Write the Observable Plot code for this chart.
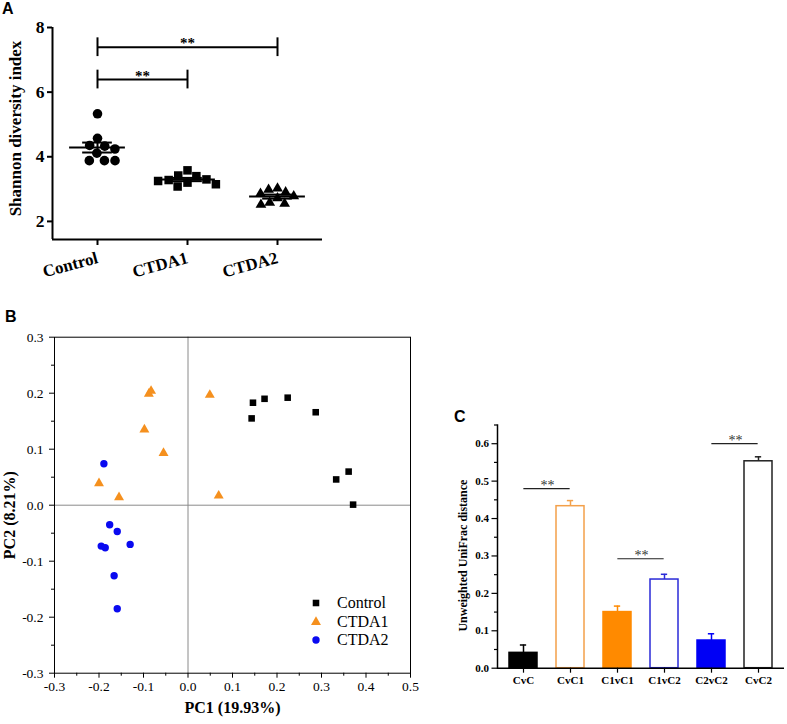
<!DOCTYPE html>
<html><head><meta charset="utf-8">
<script src="https://cdn.jsdelivr.net/npm/d3@7"></script>
<script src="https://cdn.jsdelivr.net/npm/@observablehq/plot@0.6"></script>
<style>
body{margin:0;background:#fff;}
#fig{position:relative;width:787px;height:724px;background:#fff;overflow:hidden;}
.panel{position:absolute;}
.tag{position:absolute;font-family:"Liberation Sans",Arial,sans-serif;font-weight:bold;font-size:16px;line-height:1;}
#legend{position:absolute;left:310px;top:594px;font-family:"Liberation Serif",serif;font-size:16px;}
#legend .row{display:flex;align-items:center;height:18.5px;}
#legend span{font-family:"Liberation Serif",serif;}
#legend svg{margin-right:15px;display:block;}
</style></head><body>
<div id="fig">
 <div id="pa" class="panel" style="left:0;top:0"></div>
 <div id="pb" class="panel" style="left:0;top:300px"></div>
 <div id="pc" class="panel" style="left:440px;top:400px"></div>
 <div class="tag" style="left:2px;top:0.5px">A</div>
 <div class="tag" style="left:5px;top:309px">B</div>
 <div class="tag" style="left:454px;top:409px">C</div>
 <div id="legend"></div>
</div>
<script>
// ---------- data ----------
const groups = ["Control", "CTDA1", "CTDA2"];
// Panel A: Shannon diversity index per sample
const shannonControl = [5.33, 4.57, 4.35, 4.33, 4.24, 4.11, 3.88, 3.88, 3.88];
const shannonCTDA1 = [3.58, 3.42, 3.40, 3.30, 3.28, 3.25, 3.20, 3.15, 3.08];
const shannonCTDA2 = [3.02, 2.98, 2.90, 2.86, 2.78, 2.72, 2.58, 2.55, 2.52];
const shannonTicks = [2, 4, 6, 8];
const bracketFrom = ["Control", "Control"];
const bracketTo = ["CTDA1", "CTDA2"];
const bracketLevel = [6.39, 7.39];
const bracketLabel = ["**", "**"];

// Panel B: PCoA coordinates [PC1, PC2]
const pcoaControl = [[0.146, 0.183], [0.172, 0.190], [0.224, 0.192], [0.143, 0.155], [0.287, 0.166], [0.361, 0.060], [0.333, 0.046], [0.371, 0.001]];
const pcoaCTDA1 = [[-0.083, 0.204], [-0.088, 0.199], [0.049, 0.197], [-0.098, 0.135], [-0.055, 0.093], [-0.200, 0.039], [-0.155, 0.014], [0.069, 0.017]];
const pcoaCTDA2 = [[-0.189, 0.074], [-0.176, -0.035], [-0.159, -0.047], [-0.195, -0.073], [-0.186, -0.076], [-0.130, -0.070], [-0.166, -0.126], [-0.159, -0.185]];
const pc1Ticks = [-0.3, -0.2, -0.1, 0.0, 0.1, 0.2, 0.3, 0.4, 0.5];
const pc1Minor = [-0.25, -0.15, -0.05, 0.05, 0.15, 0.25, 0.35, 0.45];
const pc2Ticks = [-0.3, -0.2, -0.1, 0.0, 0.1, 0.2, 0.3];
const pc2Minor = [-0.25, -0.15, -0.05, 0.05, 0.15, 0.25];

// Panel C: unweighted UniFrac distance
const distNames = ["CvC", "CvC1", "C1vC1", "C1vC2", "C2vC2", "CvC2"];
const distMean = [0.041, 0.433, 0.150, 0.237, 0.074, 0.553];
const distErr = [0.021, 0.015, 0.016, 0.014, 0.018, 0.012];
const distTicks = [0.0, 0.1, 0.2, 0.3, 0.4, 0.5, 0.6];
const distMinor = [0.05, 0.15, 0.25, 0.35, 0.45, 0.55, 0.65];
const sigLeft = ["CvC", "C1vC1", "C2vC2"];
const sigRight = ["CvC1", "C1vC2", "CvC2"];
const sigLevel = [0.48, 0.2925, 0.60];

// ---------- styles ----------
const serif = "'Liberation Serif','Times New Roman',serif";
const groupColor = ["#000000", "#f5901e", "#0a0af0"];
const barFill = {CvC: "#000000", CvC1: "#ffffff", C1vC1: "#ff8a00", C1vC2: "#ffffff", C2vC2: "#0000f5", CvC2: "#ffffff"};
const barStroke = {CvC: "#000000", CvC1: "#f3a04a", C1vC1: "#ff8a00", C1vC2: "#2a2ad8", C2vC2: "#0000f5", CvC2: "#222222"};
const fmt1 = d => d.toFixed(1);

// ---------- Panel A ----------
const shannon = [shannonControl, shannonCTDA1, shannonCTDA2];
const dataA = groups.flatMap((g, i) => shannon[i].map(v => ({group: g, value: v})));
const statsA = groups.map((g, i) => {
  const v = shannon[i], m = d3.mean(v), se = d3.deviation(v) / Math.sqrt(v.length);
  return {group: g, mean: m, lo: m - se, hi: m + se};
});
const bracketsA = bracketFrom.map((f, i) => ({
  group: f, x1: 0, x2: 2 * (groups.indexOf(bracketTo[i]) - groups.indexOf(f)),
  y: bracketLevel[i], label: bracketLabel[i]
}));
const yMinA = 1.44;
const radiusA = {Control: 4.8, CTDA1: 4.8, CTDA2: 4.0};

const plotA = Plot.plot({
  width: 330, height: 300,
  marginTop: 27, marginBottom: 61, marginLeft: 52, marginRight: 8,
  style: {fontFamily: serif, fontWeight: "bold", fontSize: "16px", background: "transparent", overflow: "visible"},
  fx: {domain: groups, padding: 0},
  x: {domain: [-1, 1], axis: null},
  y: {domain: [yMinA, 8]},
  r: {type: "identity"},
  symbol: {domain: groups, range: ["circle", "square", "triangle"]},
  marks: [
    Plot.ruleY([yMinA], {strokeWidth: 2}),
    Plot.ruleX([{group: "Control"}], {fx: "group", x: () => -1, y1: yMinA, y2: 8, strokeWidth: 2}),
    Plot.dot(dataA, Plot.dodgeX("middle", {fx: "group", y: "value", symbol: "group", r: d => radiusA[d.group], fill: "black", stroke: "none"})),
    Plot.ruleY(statsA, {fx: "group", y: "mean", x1: -0.62, x2: 0.62, strokeWidth: 2}),
    Plot.ruleY(statsA, {fx: "group", y: "lo", x1: -0.33, x2: 0.33, strokeWidth: 2}),
    Plot.ruleY(statsA, {fx: "group", y: "hi", x1: -0.33, x2: 0.33, strokeWidth: 2}),
    Plot.ruleX(statsA, {fx: "group", x: () => 0, y1: "lo", y2: "hi", strokeWidth: 2}),
    Plot.ruleY(bracketsA, {fx: "group", y: "y", x1: "x1", x2: "x2", strokeWidth: 2}),
    Plot.ruleX(bracketsA, {fx: "group", x: "x1", y1: d => d.y - 0.29, y2: d => d.y + 0.29, strokeWidth: 2}),
    Plot.ruleX(bracketsA, {fx: "group", x: "x2", y1: d => d.y - 0.29, y2: d => d.y + 0.29, strokeWidth: 2}),
    Plot.text(bracketsA, {fx: "group", x: d => (d.x1 + d.x2) / 2, y: "y", text: "label", lineAnchor: "bottom", dy: 1, fontSize: 15, fontWeight: "bold"}),
    Plot.axisY({ticks: shannonTicks, tickSize: 5, tickPadding: 3, tickFormat: d => String(d), fontSize: 17.5, fontWeight: "bold", strokeWidth: 2, label: null}),
    Plot.axisFx({anchor: "bottom", tickSize: 6, tickPadding: 12, tickRotate: -15, fontSize: 17, fontWeight: "bold", strokeWidth: 2, label: null}),
    Plot.text([{group: "Control", t: "Shannon diversity index"}], {fx: "group", text: "t", frameAnchor: "left", textAnchor: "middle", rotate: -90, dx: -37, dy: -5, fontSize: 17, fontWeight: "bold"})
  ]
});
document.getElementById("pa").append(plotA);

// ---------- Panel B ----------
const pcoaSets = [pcoaControl, pcoaCTDA1, pcoaCTDA2];
const pcoa = groups.flatMap((g, i) => pcoaSets[i].map(([a, b]) => ({group: g, pc1: a, pc2: b})));
const plotB = Plot.plot({
  width: 420, height: 424,
  marginTop: 36.7, marginBottom: 51.3, marginLeft: 54, marginRight: 10,
  style: {fontFamily: serif, fontSize: "13px", background: "transparent", overflow: "visible"},
  x: {domain: [-0.3, 0.5]},
  y: {domain: [-0.3, 0.3]},
  color: {domain: groups, range: groupColor},
  symbol: {domain: groups, range: ["square", "triangle", "circle"]},
  marks: [
    Plot.ruleX([0], {stroke: "#8a8a8a", strokeWidth: 1}),
    Plot.ruleY([0], {stroke: "#8a8a8a", strokeWidth: 1}),
    Plot.frame({stroke: "#000"}),
    Plot.axisX({ticks: pc1Ticks, tickSize: 5, tickPadding: 3, tickFormat: fmt1, fontSize: 13.5, fontFamily: serif, label: null}),
    Plot.axisX({ticks: pc1Minor, tickSize: 3, tickFormat: () => "", label: null}),
    Plot.axisY({ticks: pc2Ticks, tickSize: 5, tickPadding: 6, tickFormat: fmt1, fontSize: 13.5, fontFamily: serif, label: null}),
    Plot.axisY({ticks: pc2Minor, tickSize: 3, tickFormat: () => "", label: null}),
    Plot.dot(pcoa, {x: "pc1", y: "pc2", symbol: "group", fill: "group", r: 3.7}),
    Plot.text(["PC1 (19.93%)"], {frameAnchor: "bottom", dy: 40, fontSize: 16, fontWeight: "bold"}),
    Plot.text(["PC2 (8.21%)"], {frameAnchor: "left", textAnchor: "middle", rotate: -90, dx: -45, dy: 10, fontSize: 16, fontWeight: "bold"})
  ]
});
document.getElementById("pb").append(plotB);

// legend for B
const legendSymbols = [d3.symbolSquare, d3.symbolTriangle, d3.symbolCircle];
const legend = d3.select("#legend");
groups.forEach((g, i) => {
  const row = legend.append("div").attr("class", "row");
  const svg = row.append("svg").attr("width", 12).attr("height", 12);
  svg.append("path").attr("transform", "translate(6,6)")
    .attr("d", d3.symbol(legendSymbols[i], Math.PI * 3.7 * 3.7)())
    .attr("fill", groupColor[i]);
  row.append("span").text(g);
});

// ---------- Panel C ----------
const distData = distNames.map((n, i) => ({name: n, value: distMean[i], top: distMean[i] + distErr[i]}));
const sigC = sigLeft.map((a, i) => ({a, b: sigRight[i], y: sigLevel[i]}));
const wC = 347, mlC = 57, mrC = 3;
const stepC = (wC - mlC - mrC) / distNames.length;
const bwC = 0.6 * stepC;
const plotC = Plot.plot({
  width: wC, height: 324,
  marginTop: 24.5, marginBottom: 56.3, marginLeft: mlC, marginRight: mrC,
  style: {fontFamily: serif, fontSize: "11px", fontWeight: "bold", background: "transparent", overflow: "visible"},
  x: {domain: distNames, paddingInner: 0.4, paddingOuter: 0.2},
  y: {domain: [0, 0.65]},
  marks: [
    Plot.ruleX(distData, {x: "name", y1: "value", y2: "top", stroke: d => barStroke[d.name], strokeWidth: 1.5}),
    Plot.tickY(distData, {x: "name", y: "top", stroke: d => barStroke[d.name], strokeWidth: 1.5, insetLeft: (bwC - 7) / 2, insetRight: (bwC - 7) / 2}),
    Plot.barY(distData, {x: "name", y: "value", fill: d => barFill[d.name], stroke: d => barStroke[d.name], strokeWidth: 1.5}),
    Plot.ruleY([0], {strokeWidth: 1.5}),
    Plot.frame({anchor: "left", strokeWidth: 1.5}),
    Plot.axisY({ticks: distTicks, tickSize: 5.5, tickPadding: 3, tickFormat: fmt1, fontSize: 11, fontWeight: "bold", strokeWidth: 1.2, label: null}),
    Plot.axisY({ticks: distMinor, tickSize: 3, tickFormat: () => "", strokeWidth: 1.2, label: null}),
    Plot.axisX({tickSize: 5, tickPadding: 3, fontSize: 11, fontWeight: "bold", strokeWidth: 1.2, label: null}),
    Plot.ruleY(sigC, {x1: "a", x2: "b", y: "y", insetLeft: bwC / 2, insetRight: bwC / 2, stroke: "#222", strokeWidth: 1.2}),
    Plot.text(sigC, {x: "a", y: "y", dx: stepC / 2, dy: 1, text: () => "**", lineAnchor: "bottom", fontSize: 14, fontWeight: "normal", fill: "#333"}),
    Plot.text(["Unweighted UniFrac distance"], {frameAnchor: "left", textAnchor: "middle", rotate: -90, dx: -34, dy: 9, fontSize: 12, fontWeight: "bold"})
  ]
});
document.getElementById("pc").append(plotC);
</script>
</body></html>
